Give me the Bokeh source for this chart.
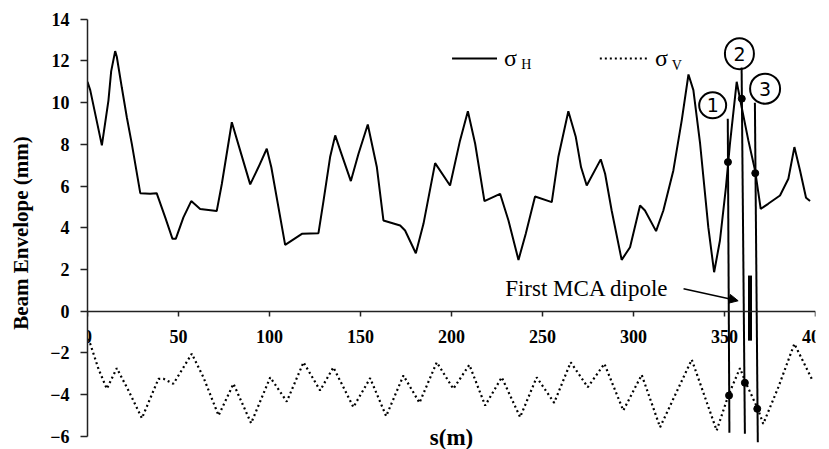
from bokeh.plotting import figure
from bokeh.models import Range1d, FixedTicker, LinearAxis, Label, Arrow, NormalHead
from bokeh.core.properties import value
from bokeh.embed import file_html
from bokeh.resources import INLINE

# ---- data ----
s_h = [0, 1.5, 7.9, 11.5, 13, 15.2, 16.1, 18.9, 21.6, 24.4, 29, 34.4, 38, 42.7, 46.7, 48.5,
       52.7, 57, 61.9, 71, 73.8, 79.3, 83.9, 89.4, 93.9, 98.5, 101, 108.6, 117.8, 126.9,
       129.7, 133.3, 136.1, 139.2, 144.7, 148.9, 154, 159, 162.6, 171.8, 174.5, 180.4,
       184.6, 191, 199.2, 204.7, 209, 213, 218.1, 226.7, 231.3, 236.8, 240.8, 245.9, 255.1,
       258.7, 264.2, 268.3, 271.2, 274.3, 282, 284.4, 288, 293.5, 298.1, 303.6, 306.3,
       312.4, 316.4, 321.9, 326.5, 330.2, 332.9, 336.6, 341.1, 344.3, 347.5, 350.8, 353,
       356.7, 358.5, 363.1, 366.8, 369.9, 374, 380.5, 385.1, 388.4, 391.5, 394.8, 397]
sigma_h = [11.0, 10.6, 7.95, 10.1, 11.5, 12.47, 12.2, 10.7, 9.3, 8.0, 5.66, 5.63, 5.66, 4.5,
           3.47, 3.47, 4.5, 5.28, 4.9, 4.8, 6.1, 9.06, 7.7, 6.08, 6.9, 7.79, 6.9, 3.18, 3.71,
           3.74, 5.3, 7.39, 8.43, 7.63, 6.24, 7.55, 8.95, 6.9, 4.35, 4.11, 3.87, 2.78, 4.19,
           7.1, 6.03, 8.19, 9.59, 8.03, 5.28, 5.63, 4.35, 2.46, 3.71, 5.5, 5.23, 7.39, 9.59,
           8.35, 6.9, 6.03, 7.28, 6.59, 4.83, 2.46, 3.07, 5.07, 4.83, 3.84, 4.83, 6.75, 9.15,
           11.35, 10.6, 8.03, 4.03, 1.87, 3.39, 5.95, 8.03, 11.0, 10.19, 8.19, 6.75, 4.91,
           5.15, 5.55, 6.35, 7.87, 6.75, 5.44, 5.28]

s_v = [0, 1.5, 6, 10.6, 16.1, 22.5, 29.9, 39, 41.7, 47.2, 57.3, 63.7, 72, 80.2, 89.9, 100.4,
       109.5, 118.7, 127.8, 135.1, 146.1, 155.3, 164.1, 173.6, 182.4, 191.9, 201, 209.8,
       218.5, 227.6, 237.7, 246.8, 256.4, 265.5, 274.9, 284, 294.4, 304.5, 314.6, 332,
       345.7, 352.1, 358.5, 361.7, 368.3, 371.3, 379.6, 388.4, 397.9]
sigma_v = [-1.33, -1.56, -2.76, -3.72, -2.73, -3.8, -5.13, -3.24, -3.24, -3.48, -2.04, -3.17,
           -5.0, -3.48, -5.37, -3.17, -4.33, -2.45, -3.8, -2.69, -4.6, -3.21, -5.03, -3.08,
           -4.39, -2.45, -3.72, -2.57, -4.52, -3.17, -5.08, -3.17, -4.39, -2.45, -3.64, -2.52,
           -4.76, -3.05, -5.56, -2.32, -5.72, -4.04, -2.73, -3.43, -4.68, -5.4, -3.64, -1.56,
           -3.24]

x_ticks = [0, 50, 100, 150, 200, 250, 300, 350, 400]
y_ticks = [-6, -4, -2, 0, 2, 4, 6, 8, 10, 12, 14]

# marked positions 1, 2, 3
mark_labels = ["1", "2", "3"]
mark_top_s = [351.8, 359.4, 366.7]
mark_bot_s = [352.7, 361.2, 368.3]
mark_top_v = [9.23, 11.69, 10.0]
mark_bot_v = [-5.83, -5.87, -6.28]
circle_s = [343.5, 358.2, 372.3]
circle_v = [9.87, 12.35, 10.67]
dot_h_s = [351.9, 359.5, 366.9]
dot_h_v = [7.15, 10.19, 6.62]
dot_v_s = [352.5, 361.2, 368.0]
dot_v_v = [-4.04, -3.43, -4.68]
dipole_s = 364.0
dipole_v = [1.71, -1.41]

SERIF = "Liberation Serif"

p = figure(width=829, height=449, output_backend="svg", toolbar_location=None,
           x_range=Range1d(0, 400), y_range=Range1d(-6.63, 14.13),
           x_axis_location=None, y_axis_location=None,
           min_border_left=87, min_border_right=14, min_border_top=16, min_border_bottom=0)
p.grid.visible = False
p.outline_line_color = None
p.background_fill_color = "white"
p.border_fill_color = "white"

yaxis = LinearAxis(ticker=FixedTicker(ticks=y_ticks), bounds=(-6, 14),
                   axis_label="Beam Envelope (mm)")
yaxis.axis_label_text_font = SERIF
yaxis.axis_label_text_font_style = "bold"
yaxis.axis_label_text_font_size = "21px"
yaxis.axis_label_text_color = "black"
yaxis.axis_label_standoff = 14
yaxis.major_label_text_font = SERIF
yaxis.major_label_text_font_style = "bold"
yaxis.major_label_text_font_size = "18px"
yaxis.major_label_text_color = "black"
yaxis.major_label_standoff = 11
yaxis.major_tick_out = 7
yaxis.major_tick_in = 0
yaxis.minor_tick_out = 0
yaxis.minor_tick_in = 0
yaxis.axis_line_color = "#222222"
yaxis.axis_line_width = 1.5
yaxis.major_tick_line_color = "#222222"
yaxis.major_tick_line_width = 1.5
p.add_layout(yaxis, "left")

xaxis = LinearAxis(ticker=FixedTicker(ticks=x_ticks), bounds=(0, 400), fixed_location=0)
xaxis.major_label_text_font = SERIF
xaxis.major_label_text_font_style = "bold"
xaxis.major_label_text_font_size = "18px"
xaxis.major_label_text_color = "black"
xaxis.major_label_standoff = 14
xaxis.major_tick_out = 5
xaxis.major_tick_in = 0
xaxis.minor_tick_out = 0
xaxis.minor_tick_in = 0
xaxis.axis_line_color = "#222222"
xaxis.axis_line_width = 1.5
xaxis.major_tick_line_color = "#222222"
xaxis.major_tick_line_width = 1.5
p.add_layout(xaxis, "below")

# curves
p.line(s_h, sigma_h, line_color="black", line_width=2)
p.line(s_v, sigma_v, line_color="black", line_width=2.2, line_dash="2 3")

# legend (drawn by hand as in the original)
p.line([200.3, 225], [12.12, 12.12], line_color="black", line_width=2)
p.text([228.9], [12.15], text=["σ"], text_font=value(SERIF), text_font_size="24px",
       text_baseline="middle", text_align="left", text_color="black")
p.text([238.3], [11.85], text=["H"], text_font=value(SERIF), text_font_size="14px",
       text_baseline="middle", text_align="left", text_color="black")
p.line([281.5, 308], [12.12, 12.12], line_color="black", line_width=2, line_dash="2 3")
p.text([311.8], [12.15], text=["σ"], text_font=value(SERIF), text_font_size="24px",
       text_baseline="middle", text_align="left", text_color="black")
p.text([321.0], [11.8], text=["V"], text_font=value(SERIF), text_font_size="14px",
       text_baseline="middle", text_align="left", text_color="black")

# marker lines, dots and circled numbers
p.segment(x0=mark_top_s, y0=mark_top_v, x1=mark_bot_s, y1=mark_bot_v,
          line_color="black", line_width=2)
p.scatter(dot_h_s, dot_h_v, size=7, color="black")
p.scatter(dot_v_s, dot_v_v, size=7, color="black")
p.ellipse(x=circle_s, y=circle_v, width=[27, 29, 30], height=[26, 31, 30],
          width_units="screen", height_units="screen",
          fill_color=None, line_color="black", line_width=2)
p.text(circle_s, circle_v, text=mark_labels, text_font=value("DejaVu Sans"),
       text_font_size="19px", text_align="center", text_baseline="middle",
       text_color="black")

# first MCA dipole
p.segment(x0=[dipole_s], y0=[dipole_v[0]], x1=[dipole_s], y1=[dipole_v[1]],
          line_color="black", line_width=4)
p.add_layout(Label(x=229.5, y=1.08, text="First MCA dipole", text_font=SERIF,
                   text_font_size="23px", text_baseline="middle", text_align="left",
                   text_color="black"))
p.add_layout(Arrow(x_start=327.5, y_start=1.08, x_end=357.5, y_end=0.5,
                   line_color="black", line_width=1.5,
                   end=NormalHead(size=9, fill_color="black", line_color="black")))

# x-axis title at the bottom
p.add_layout(Label(x=200, y=-6.06, text="s(m)", text_font=SERIF, text_font_style="bold",
                   text_font_size="23px", text_baseline="middle", text_align="center",
                   text_color="black"))

open("out.html", "w").write(file_html(p, INLINE))
